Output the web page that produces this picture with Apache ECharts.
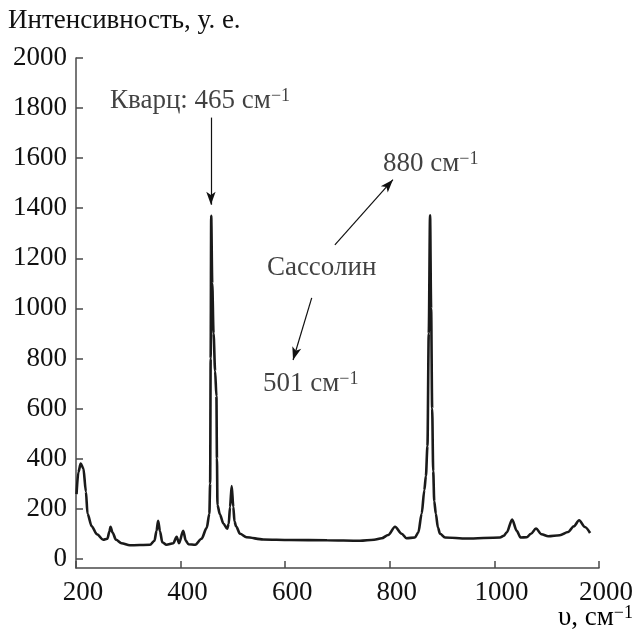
<!DOCTYPE html>
<html><head><meta charset="utf-8">
<script src="https://cdn.jsdelivr.net/npm/echarts@6/dist/echarts.min.js"></script>
<style>html,body{margin:0;padding:0;background:#fff}#c{width:635px;height:631px}</style>
</head><body><div id="c"></div>
<script>
// Spectrum (wavenumber, cm^-1) and intensity (a.u.)
const wavenumbers = [201, 204.5, 209, 214, 219, 222, 230, 240, 252, 260, 264, 266, 270, 276.5, 287, 303, 341.5, 350, 354, 357, 360.6, 365, 373, 386, 392.5, 397, 405, 410, 415, 428, 440, 450, 455, 456.5, 457.5, 458.5, 460.5, 463, 466, 468.5, 469.5, 470.5, 475, 482, 489, 492, 494.5, 497.7, 500.8, 503, 506, 513.6, 526, 558, 609, 680, 743, 770, 784.5, 797, 810, 822.7, 832, 848, 854.5, 861, 866, 869, 872, 874.5, 877, 879, 881, 883, 885, 888, 892, 896, 905.6, 947, 1010.7, 1018, 1023.5, 1034, 1042.6, 1050, 1061.7, 1070, 1079.5, 1090, 1103, 1125, 1141, 1152, 1162, 1173, 1183];
const intensity   = [258, 346, 380, 362, 268, 180, 130, 98, 76, 80, 110, 128, 104, 76, 62, 54, 56, 72, 112, 152, 110, 66, 56, 62, 88, 62, 112, 72, 58, 56, 80, 124, 180, 300, 800, 1370, 1100, 900, 750, 650, 400, 215, 178, 140, 120, 140, 207, 290, 207, 150, 130, 100, 86, 77, 75, 74, 72, 76, 82, 95, 128, 100, 82, 85, 105, 181, 274, 330, 450, 900, 1372, 1000, 600, 350, 230, 180, 125, 100, 85, 81, 85, 92, 105, 157, 112, 85, 86, 100, 121, 98, 90, 94, 107, 130, 154, 127, 103];

const xTickValues = [200, 400, 600, 800, 1000, 1200];
const xTickLabels = ['200', '400', '600', '800', '1000', '2000'];
const yTickValues = [0, 200, 400, 600, 800, 1000, 1200, 1400, 1600, 1800, 2000];

const yTitle = 'Интенсивность, у. е.';
const xTitle = 'υ, см';
const supText = '−1';

// annotations (text anchor in data units: left edge, vertical middle)
const noteTexts = ['Кварц: 465 см', '880 см', 'Сассолин', '501 см'];
const noteSup = ['−1', '−1', '', '−1'];
const noteAnchors = [[265, 1830], [787, 1578], [565, 1160], [557.5, 698]];
// arrows: [from, to] in data units
const arrows = [
  [[458, 1762], [458, 1414]],
  [[695, 1254], [806, 1514]],
  [[650.7, 1042], [615, 794]]
];

const FONT = 'Liberation Serif';
const FS = 27;
const chart = echarts.init(document.getElementById('c'));
const lineData = wavenumbers.map((w, i) => [w, intensity[i]]);
const richStyle = {
  m: { fontSize: FS, fontFamily: FONT, color: '#111' },
  s: { fontSize: 18, fontFamily: FONT, color: '#111', verticalAlign: 'top' }
};

chart.setOption({
  animation: false,
  backgroundColor: '#fff',
  title: {
    text: yTitle, left: 3, top: 2,
    textStyle: { fontSize: FS, fontWeight: 'normal', color: '#111', fontFamily: FONT }
  },
  grid: { left: 76, right: 36, top: 58, bottom: 63, containLabel: false, outerBoundsMode: 'none' },
  xAxis: {
    type: 'value', min: 200, max: 1200, interval: 200,
    axisLine: { onZero: false, lineStyle: { color: '#4a4a4a', width: 1.5 } },
    axisTick: { inside: true, length: 7, lineStyle: { color: '#4a4a4a', width: 1.5 } },
    splitLine: { show: false },
    axisLabel: {
      margin: 11, fontSize: FS, fontFamily: FONT, color: '#111',
      padding: [0, 0, 0, 14], showMinLabel: true, showMaxLabel: true,
      formatter: v => { const i = xTickValues.indexOf(v); return i >= 0 ? xTickLabels[i] : ''; }
    }
  },
  yAxis: {
    type: 'value', min: -36.8, max: 2000,
    axisLine: { show: true, lineStyle: { color: '#4a4a4a', width: 1.5 } },
    axisTick: { show: true, inside: true, length: 7, customValues: yTickValues, lineStyle: { color: '#4a4a4a', width: 1.5 } },
    splitLine: { show: false },
    axisLabel: { margin: 9, fontSize: FS, fontFamily: FONT, color: '#111', customValues: yTickValues, formatter: v => String(v) }
  },
  graphic: [{
    type: 'text', right: 2, top: 604,
    style: { text: '{m|' + xTitle + '}{s|' + supText + '}', rich: richStyle }
  }],
  series: [{
    type: 'line', data: lineData, showSymbol: false, symbol: 'none',
    smooth: 0.3, smoothMonotone: 'x',
    lineStyle: { color: '#1a1a1a', width: 2.6 },
    markLine: {
      silent: true, animation: false,
      symbol: ['none', 'arrow'], symbolSize: [0, 11],
      lineStyle: { color: '#111', width: 1.2, type: 'solid' },
      label: { show: false },
      data: arrows.map(a => [{ coord: a[0], symbol: 'none' }, { coord: a[1], symbol: 'arrow', symbolSize: [7, 13] }])
    }
  }, {
    type: 'scatter', symbolSize: 0, silent: true,
    data: noteAnchors.map((p, i) => ({ value: p, name: noteTexts[i] })),
    label: {
      show: true, position: 'right', distance: 0, align: 'left',
      formatter: p => '{m|' + noteTexts[p.dataIndex] + '}' + (noteSup[p.dataIndex] ? '{s|' + noteSup[p.dataIndex] + '}' : ''),
      rich: richStyle
    }
  }]
});
</script></body></html>
